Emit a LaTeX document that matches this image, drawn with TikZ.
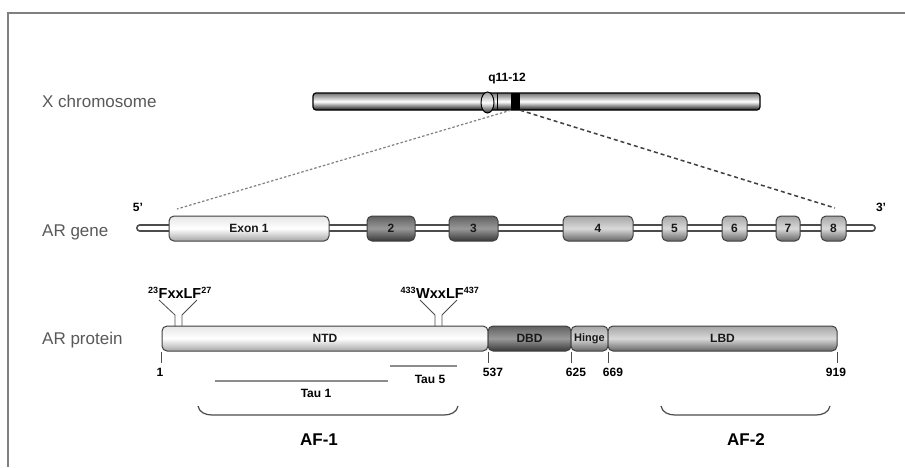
\documentclass[tikz,border=0pt]{standalone}
\usepackage{fontspec}
\setmainfont{Liberation Sans}
\usetikzlibrary{shapes.geometric}
\begin{document}
\begin{tikzpicture}[x=1pt,y=-1pt,
  lbl/.style={font=\fontsize{17}{19}\selectfont, text=black!65, anchor=west, inner sep=0},
  bx/.style={draw=black!75, line width=1pt, rounded corners=5pt, inner sep=0, minimum height=25pt, font=\bfseries\fontsize{12}{13}\selectfont, text=black!90},
  light/.style={top color=black!10, bottom color=black!35, middle color=white},
  dark/.style={top color=black!62, bottom color=black!78, middle color=black!40},
  mid/.style={top color=black!35, bottom color=black!60, middle color=black!15},
  num/.style={font=\bfseries\fontsize{12}{13}\selectfont, inner sep=0},
  tickln/.style={draw=black!70, line width=0.8pt},
  fork/.style={draw=black!70, line width=0.8pt},
  tau/.style={draw=black!45, line width=1.3pt},
  brace/.style={draw=black!70, line width=1.2pt},
  small/.style={font=\bfseries\fontsize{12}{13}\selectfont, inner sep=0},
  motif/.style={font=\bfseries\fontsize{14.5}{16}\selectfont, inner sep=0},
  af/.style={font=\bfseries\fontsize{17}{19}\selectfont, inner sep=0}
]
\useasboundingbox (0,0) rectangle (905,467);
\fill[white] (0,0) rectangle (905,467);
% frame
\draw[black!50, line width=1.5pt] (905,13) -- (8,13) -- (8,467);

% row labels
\node[lbl] (lx) at (42,101) {X chromosome};
\node[lbl] (lg) at (42,232) {AR gene};
\node[lbl] (lp) at (42,340) {AR protein};

% chromosome
\node[draw=black, line width=1.2pt, rounded corners=3pt, minimum width=447pt, minimum height=17pt, inner sep=0,
      top color=black!55, bottom color=black!90, middle color=white] (chr) at (536.5,101.5) {};
\node[ellipse, draw=black, line width=1pt, minimum width=13pt, minimum height=21pt, inner sep=0,
      top color=black!40, bottom color=black!80, middle color=white] (cen) at (487.5,102.5) {};
\draw[black, line width=0.8pt] (497,93) -- (497,110);
\node[fill=black, minimum width=9pt, minimum height=17pt, inner sep=0] (band) at (515.5,101.5) {};
\node[small] (q) at (507,79) {q11-12};

% gene
\coordinate (g5) at (140,228);
\coordinate (g3) at (872,228);
\draw[line width=8pt, black!70, line cap=round] (g5) -- (g3);
\draw[line width=4.5pt, white, line cap=round] (g5) -- (g3);
\node[small] (p5) at (138,207) {5'};
\node[small] (p3) at (881,207) {3'};
\node[bx, light, minimum width=160pt] (e1) at (249,228.5) {Exon 1};
\node[bx, dark, minimum width=48pt] (e2) at (391,228.5) {2};
\node[bx, dark, minimum width=49pt] (e3) at (473.5,228.5) {3};
\node[bx, mid, minimum width=70pt] (e4) at (598,228.5) {4};
\node[bx, mid, minimum width=25pt] (e5) at (674.5,228.5) {5};
\node[bx, mid, minimum width=25pt] (e6) at (734.5,228.5) {6};
\node[bx, mid, minimum width=24pt] (e7) at (788,228.5) {7};
\node[bx, mid, minimum width=25pt] (e8) at (833.5,228.5) {8};

% zoom lines
\coordinate (zl) at (177,209);
\coordinate (zr) at (835,208);
\draw[black!50, line width=1.2pt, dash pattern=on 2.5pt off 2pt] (band.south west) -- (zl);
\draw[black!75, line width=1.5pt, dash pattern=on 4pt off 3pt] (band.south east) -- (zr);

% protein
\node[bx, light, minimum width=326pt] (ntd) at (325,338.5) {NTD};
\node[bx, dark, minimum width=83pt] (dbd) at (529.5,338.5) {DBD};
\node[bx, mid, minimum width=37pt, font=\bfseries\fontsize{11}{12}\selectfont] (hin) at (589.5,338.5) {Hinge};
\node[bx, mid, minimum width=229pt] (lbd) at (722.5,338.5) {LBD};

\draw[tickln] (ntd.south west) -- ++(0,11);
\draw[tickln] (ntd.south east) -- ++(0,11);
\draw[tickln] (dbd.south east) -- ++(0,11);
\draw[tickln] (hin.south east) -- ++(0,11);
\draw[tickln] (lbd.south east) -- ++(0,11);
\node[num] (n1) at (160,372) {1};
\node[num] (n537) at (493,372) {537};
\node[num] (n625) at (576,372) {625};
\node[num] (n669) at (613,372) {669};
\node[num] (n919) at (836,372) {919};

% motifs
\node[motif] (m1) at (180,293) {\textsuperscript{\fontsize{9}{9}\selectfont 23}FxxLF\textsuperscript{\fontsize{9}{9}\selectfont 27}};
\node[motif] (m2) at (440,293) {\textsuperscript{\fontsize{9}{9}\selectfont 433}WxxLF\textsuperscript{\fontsize{9}{9}\selectfont 437}};
\draw[fork] (159,300) -- (175,315) -- (175,326);
\draw[fork] (197,300) -- (182,315) -- (182,326);
\draw[fork] (420,300) -- (435,315) -- (435,326);
\draw[fork] (457,300) -- (442,315) -- (442,326);

% tau
\coordinate (t1a) at (215,381); \coordinate (t1b) at (388,381);
\coordinate (t5a) at (390,366); \coordinate (t5b) at (457,366);
\draw[tau] (t1a) -- (t1b);
\draw[tau] (t5a) -- (t5b);
\node[num] (tau1) at (316,393) {Tau 1};
\node[num] (tau5) at (430,379) {Tau 5};

% braces
\draw[brace] (198,406) to[out=-80,in=180] (212,415) -- (444,415) to[out=0,in=-100] (458,406);
\draw[brace] (661,406) to[out=-80,in=180] (675,415) -- (816,415) to[out=0,in=-100] (830,406);
\node[af] (af1) at (319,440) {AF-1};
\node[af] (af2) at (746,440) {AF-2};
\end{tikzpicture}
\end{document}
